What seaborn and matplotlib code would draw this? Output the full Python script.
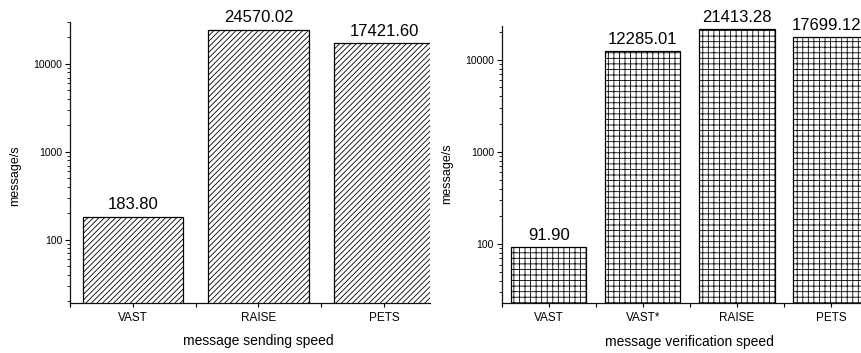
import matplotlib
matplotlib.use("Agg")
import matplotlib.pyplot as plt
import seaborn as sns
import pandas as pd
from matplotlib.ticker import LogLocator, FixedLocator, NullFormatter, FuncFormatter

# Throughput data (messages per second)
send_schemes = ["VAST", "RAISE", "PETS"]
send_speed = [183.80, 24570.02, 17421.60]

verify_schemes = ["VAST", "VAST*", "RAISE", "PETS"]
verify_speed = [91.90, 12285.01, 21413.28, 17699.12]

sns.set_theme(style="white")
plt.rcParams["font.family"] = ["Liberation Sans", "DejaVu Sans"]
plt.rcParams["hatch.linewidth"] = 0.6
plt.rcParams["hatch.color"] = "#555555"

W, H = 862, 353
fig = plt.figure(figsize=(W / 100, H / 100), dpi=100)

ax1 = fig.add_axes([70 / W, 1 - 303.3 / H, 360 / W, (303.3 - 22) / H])
ax2 = fig.add_axes([501.7 / W, 1 - 303.3 / H, (W - 501.7) / W, (303.3 - 26) / H])

value_labels = []


def draw_panel(ax, cats, vals, hatch, ylim, xlim, xlabel, ylab_xy, xlab_xy):
    df = pd.DataFrame({"scheme": cats, "speed": vals})
    ax.set_yscale("log")
    sns.barplot(data=df, x="scheme", y="speed", ax=ax, color="white",
                edgecolor="black", linewidth=0.9, width=0.8, saturation=1)
    for p in ax.patches:
        p.set_hatch(hatch)
        p.set_facecolor("white")
    ax.set_ylim(*ylim)
    ax.set_xlim(*xlim)

    for i, v in enumerate(vals):
        t = ax.annotate(f"{v:.2f}", xy=(i, v), xytext=(0, 3),
                        textcoords="offset points", ha="center", va="bottom",
                        fontsize=12, color="black", annotation_clip=False)
        value_labels.append(t)

    for side in ("top", "right"):
        ax.spines[side].set_visible(False)
    for side in ("left", "bottom"):
        ax.spines[side].set_color("#111111")
        ax.spines[side].set_linewidth(0.9)

    ax.yaxis.set_major_locator(LogLocator(base=10, numticks=10))
    ax.yaxis.set_minor_locator(LogLocator(base=10, subs=range(2, 10), numticks=20))
    ax.yaxis.set_minor_formatter(NullFormatter())
    ax.yaxis.set_major_formatter(FuncFormatter(lambda y, _: f"{y:g}"))
    ax.tick_params(axis="y", which="major", direction="out", length=3.5,
                   width=0.8, labelsize=7.5, pad=2, left=True, colors="black")
    ax.tick_params(axis="y", which="minor", direction="out", length=2,
                   width=0.6, left=True, colors="black")

    ax.xaxis.set_minor_locator(FixedLocator([i + 0.5 for i in range(-1, len(cats))]))
    ax.tick_params(axis="x", which="major", direction="out", length=3,
                   width=0.8, labelsize=8.5, pad=3, bottom=True, colors="black")
    ax.tick_params(axis="x", which="minor", direction="out", length=3,
                   width=0.8, bottom=True, colors="black")

    ax.set_xlabel(xlabel, fontsize=10, color="black")
    ax.set_ylabel("message/s", fontsize=9, color="black")
    ax.yaxis.set_label_coords(*ylab_xy)
    ax.xaxis.set_label_coords(*xlab_xy)


draw_panel(ax1, send_schemes, send_speed, "//////", (19, 30000),
           (-0.5, (430 - 132) / 126), "message sending speed",
           (-0.136, 0.4525), (0.522, -0.109))
draw_panel(ax2, verify_schemes, verify_speed, "+++", (22.8, 23200),
           (-0.5, (W - 549) / 94), "message verification speed",
           (-0.135, 0.466), (0.52, -0.114))

# keep value labels inside the canvas on the right edge
fig.canvas.draw()
renderer = fig.canvas.get_renderer()
for t in value_labels:
    bb = t.get_window_extent(renderer)
    overflow = bb.x1 - (W - 1)
    if overflow > 0:
        dx, dy = t.xyann
        t.xyann = (dx - overflow * 72 / 100, dy)

fig.savefig("out.png", dpi=100)
